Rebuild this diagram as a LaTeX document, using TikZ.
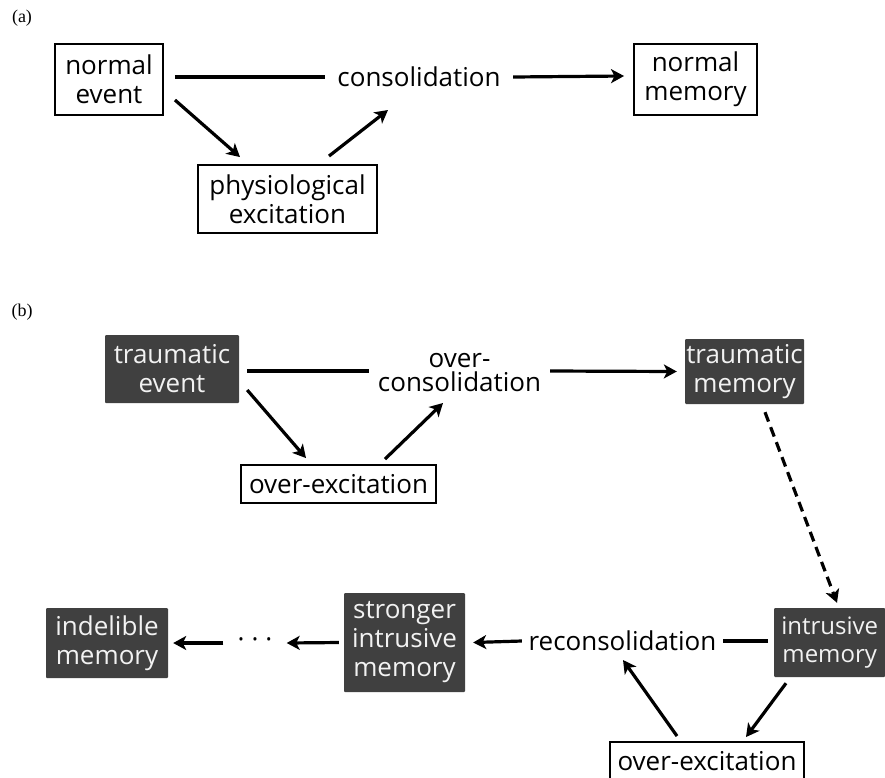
\documentclass[tikz,border=0pt]{standalone}
\usepackage{fontspec}
\setsansfont{Open Sans}
\newfontfamily\tagfont{Liberation Serif}
\usetikzlibrary{arrows.meta,calc}
\definecolor{darkbox}{HTML}{404040}
\definecolor{lighttext}{HTML}{F2F2F2}
\begin{document}
\begin{tikzpicture}[x=1pt,y=-1pt,
  every node/.style={font=\sffamily\fontsize{26}{29}\selectfont, align=center, inner sep=0pt},
  whitebox/.style={draw=black, line width=1.9pt, fill=white},
  darkbox/.style={fill=darkbox, text=lighttext, rounded corners=1pt},
  plain/.style={},
  conn/.style={line width=3.2pt},
  arr/.style={conn, -{Stealth[length=13pt,width=14pt,inset=3.5pt]}},
  dasharr/.style={arr, dash pattern=on 10pt off 6pt},
  tag/.style={font=\tagfont\fontsize{18}{20}\selectfont}
]
\useasboundingbox (0,0) rectangle (885,777);
\clip (0,0) rectangle (885,777);

% ---------- (a) ----------
\node[tag] (taga) at (22,18.5) {(a)};
\node[whitebox, minimum width=108pt, minimum height=71pt] (ne) at (109,79.5) {normal\\event};
\node[plain, minimum width=188pt] (cons) at (419,77) {consolidation};
\node[whitebox, minimum width=123pt, minimum height=71pt] (nm) at (695.5,79.5) {normal\\memory};
\node[whitebox, minimum width=179pt, minimum height=68pt] (pe) at (287.5,199) {physiological\\excitation};

\draw[conn] ($(ne.east)+(11,-2.5)$) -- (cons.west);
\draw[arr] (cons.east) -- ($(nm.west)+(-9,-3.5)$);
\draw[arr] ($(ne.east)+(11,20.5)$) -- ($(pe.north)+(-47.5,-7)$);
\draw[arr] ($(pe.north)+(41.5,-8)$) -- ($(cons.center)+(-31,33)$);

% ---------- (b) ----------
\node[tag] (tagb) at (22,312) {(b)};
\node[darkbox, minimum width=134pt, minimum height=68pt] (te) at (172,369) {traumatic\\event};
\node[plain, minimum width=181pt, font=\sffamily\fontsize{26}{24}\selectfont] (ocons) at (459.5,373) {over-\\consolidation};
\node[darkbox, minimum width=119pt, minimum height=65pt] (tm) at (744.5,371.5) {traumatic\\memory};
\node[whitebox, minimum width=195pt, minimum height=38pt] (oe1) at (338.5,484) {over-excitation};

\draw[conn] ($(te.east)+(8,2)$) -- ($(ocons.west)+(0,-2)$);
\draw[arr] ($(ocons.east)+(0,-2)$) -- ($(tm.west)+(-8,0)$);
\draw[arr] ($(te.east)+(8,21)$) -- ($(oe1.north)+(-32.5,-6)$);
\draw[arr] ($(oe1.north)+(46.5,-5)$) -- ($(ocons.center)+(-16.5,30)$);

\node[darkbox, minimum width=111pt, minimum height=69pt, anchor=west,
      font=\sffamily\fontsize{24}{28}\selectfont] (im) at (774,642.5) {intrusive\\memory};
\node[plain, minimum width=201pt] (recons) at (622.5,641) {reconsolidation};
\node[darkbox, minimum width=121pt, minimum height=99pt] (sim) at (404.5,642.5) {stronger\\intrusive\\memory};
\node[plain, minimum width=63pt] (dots) at (255,643) {·\hspace{7pt}·\hspace{7pt}·};
\node[darkbox, minimum width=122pt, minimum height=70pt] (ind) at (107,643) {indelible\\memory};
\node[whitebox, minimum width=194pt, minimum height=38pt] (oe2) at (707,761) {over-excitation};

\draw[dasharr] ($(tm.south)+(20.5,8)$) -- ($(im.north west)+(63,-5)$);
\draw[conn] ($(im.west)+(-6,-1.5)$) -- (recons.east);
\draw[arr] (recons.west) -- ($(sim.east)+(8,0)$);
\draw[arr] ($(sim.west)+(-5,0)$) -- (dots.east);
\draw[arr] (dots.west) -- ($(ind.east)+(5,0)$);
\draw[arr] ($(im.south west)+(12,6)$) -- ($(oe2.north)+(39,-4)$);
\draw[arr] ($(oe2.north)+(-30,-5)$) -- ($(recons.center)+(0.5,19)$);
\end{tikzpicture}
\end{document}
